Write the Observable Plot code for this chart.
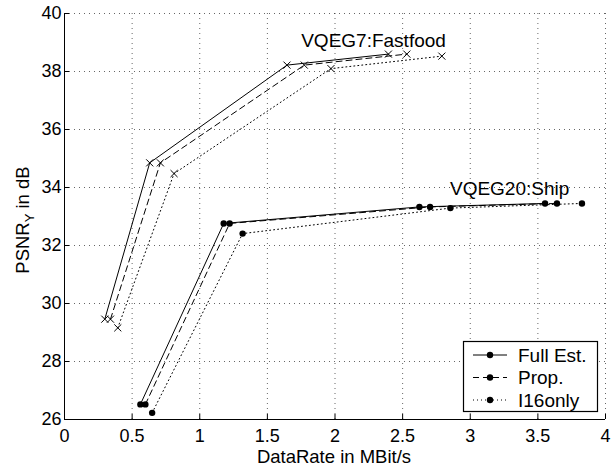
<!DOCTYPE html>
<html>
<head>
<meta charset="utf-8">
<script src="https://cdn.jsdelivr.net/npm/d3@7"></script>
<script src="https://cdn.jsdelivr.net/npm/@observablehq/plot@0.6"></script>
<style>
  html, body { margin: 0; padding: 0; background: #fff; }
  #chart { position: relative; width: 613px; height: 465px; }
</style>
</head>
<body>
<div id="chart"></div>
<script>
// ---- data ----
const methods = ["Full Est.", "Prop.", "I16only"];
const xTicks = [0, 0.5, 1, 1.5, 2, 2.5, 3, 3.5, 4];
const yTicks = [26, 28, 30, 32, 34, 36, 38, 40];

const fastfoodFullRate = [0.298, 0.63, 1.645, 2.395];
const fastfoodFullPsnr = [29.46, 34.85, 38.22, 38.6];
const fastfoodPropRate = [0.34, 0.709, 1.773, 2.531];
const fastfoodPropPsnr = [29.46, 34.85, 38.22, 38.6];
const fastfoodI16Rate  = [0.394, 0.81, 1.97, 2.79];
const fastfoodI16Psnr  = [29.16, 34.48, 38.1, 38.53];

const shipFullRate = [0.561, 1.177, 2.624, 3.553];
const shipFullPsnr = [26.52, 32.76, 33.33, 33.45];
const shipPropRate = [0.598, 1.221, 2.703, 3.641];
const shipPropPsnr = [26.52, 32.76, 33.33, 33.45];
const shipI16Rate  = [0.648, 1.317, 2.853, 3.826];
const shipI16Psnr  = [26.23, 32.41, 33.29, 33.45];

const sequenceLabels = ["VQEG7:Fastfood", "VQEG20:Ship"];
const labelRate = [1.75, 2.85];
const labelPsnr = [38.84, 33.73];

// ---- build tables ----
function rows(seq, method, rates, psnrs) {
  return rates.map((r, i) => ({seq, method, rate: r, psnr: psnrs[i]}));
}
const fastfood = [
  ...rows("Fastfood", methods[0], fastfoodFullRate, fastfoodFullPsnr),
  ...rows("Fastfood", methods[1], fastfoodPropRate, fastfoodPropPsnr),
  ...rows("Fastfood", methods[2], fastfoodI16Rate, fastfoodI16Psnr)
];
const ship = [
  ...rows("Ship", methods[0], shipFullRate, shipFullPsnr),
  ...rows("Ship", methods[1], shipPropRate, shipPropPsnr),
  ...rows("Ship", methods[2], shipI16Rate, shipI16Psnr)
];
const labels = sequenceLabels.map((t, i) => ({text: t, rate: labelRate[i], psnr: labelPsnr[i]}));

const dashes = {"Full Est.": null, "Prop.": "6,4", "I16only": "1,3"};
const FONT = "'Liberation Sans', Arial, Helvetica, sans-serif";

function lineFor(data, method) {
  return Plot.line(data.filter(d => d.method === method), {
    x: "rate", y: "psnr", stroke: "#000", strokeWidth: 1,
    strokeDasharray: dashes[method]
  });
}

const marks = [
  Plot.gridX(xTicks, {stroke: "#000", strokeOpacity: 0.6, strokeDasharray: "1,4"}),
  Plot.gridY(yTicks, {stroke: "#000", strokeOpacity: 0.6, strokeDasharray: "1,4"}),
  Plot.axisX({ticks: xTicks, tickSize: -5, tickPadding: 15, tickFormat: d => String(d), label: null, fontSize: 18}),
  Plot.axisY({ticks: yTicks, tickSize: -5, tickPadding: 8, tickFormat: d => String(d), label: null, fontSize: 18}),
  Plot.ruleX([0], {stroke: "#000"}),
  Plot.ruleY([26], {stroke: "#000"}),
  ...methods.map(m => lineFor(fastfood, m)),
  ...methods.map(m => lineFor(ship, m)),
  Plot.dot(fastfood, {x: "rate", y: "psnr", symbol: "times", r: 3.3, stroke: "#000", strokeWidth: 1}),
  Plot.dot(ship, {x: "rate", y: "psnr", r: 3.2, fill: "#000", stroke: "none"}),
  Plot.text(labels, {x: "rate", y: "psnr", text: "text", textAnchor: "start", lineAnchor: "bottom", fontSize: 19, fill: "#000"})
];

const chart = Plot.plot({
  width: 613,
  height: 465,
  marginLeft: 64,
  marginRight: 8,
  marginTop: 13,
  marginBottom: 46,
  x: {domain: [0, 4]},
  y: {domain: [26, 40]},
  style: {fontFamily: FONT, fontSize: "18px", color: "#000", background: "#fff"},
  marks
});
document.getElementById("chart").appendChild(chart);

// ---- axis titles and legend (real text) ----
const svg = d3.select(chart);
svg.append("text")
  .attr("x", 334).attr("y", 462.5)
  .attr("text-anchor", "middle")
  .attr("font-family", FONT).attr("font-size", 18.5)
  .attr("fill", "#000")
  .text("DataRate in MBit/s");

const yl = svg.append("text")
  .attr("transform", "translate(28.5,220) rotate(-90)")
  .attr("text-anchor", "middle")
  .attr("font-family", FONT).attr("font-size", 18.5)
  .attr("fill", "#000");
yl.append("tspan").text("PSNR");
yl.append("tspan").attr("font-size", 13).attr("dy", 5).text("Y");
yl.append("tspan").attr("dy", -5).text(" in dB");

const lg = svg.append("g").attr("text-anchor", "start");
lg.append("rect")
  .attr("x", 463.5).attr("y", 341.5).attr("width", 134).attr("height", 70)
  .attr("fill", "#fff").attr("stroke", "#000").attr("stroke-width", 1.2);
const rowBase = [361.5, 384, 406.5];
methods.forEach((m, i) => {
  const cy = rowBase[i] - 6.5;
  lg.append("line")
    .attr("x1", 473).attr("x2", 507).attr("y1", cy).attr("y2", cy)
    .attr("stroke", "#000").attr("stroke-width", 1)
    .attr("stroke-dasharray", dashes[m]);
  lg.append("circle").attr("cx", 490).attr("cy", cy).attr("r", 3.2).attr("fill", "#000");
  lg.append("text")
    .attr("x", 518).attr("y", rowBase[i])
    .attr("text-anchor", "start")
    .attr("font-family", FONT).attr("font-size", 19).attr("fill", "#000")
    .text(m);
});
</script>
</body>
</html>
